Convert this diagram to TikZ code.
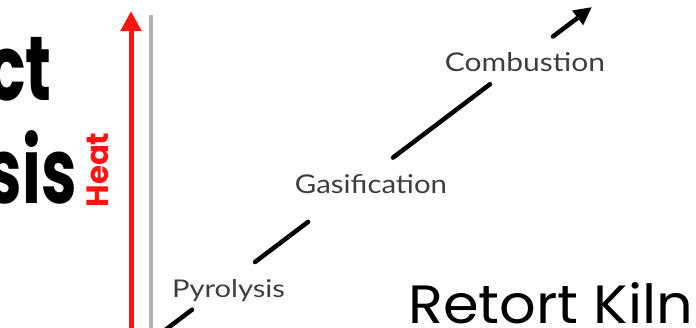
\documentclass[tikz,border=0pt]{standalone}
\usepackage{fontspec}
\usepackage{graphicx}
\usetikzlibrary{arrows.meta}
\newfontfamily\labelfont{Lato}
\newfontfamily\geofont{Poppins}
\definecolor{heatred}{RGB}{255,20,20}
\definecolor{labelgray}{RGB}{62,62,62}
\tikzset{
  bigtext/.style={font=\geofont\bfseries\fontsize{91}{100}\selectfont, text=black, inner sep=0pt},
  steplabel/.style={font=\labelfont, text=labelgray, inner sep=0pt},
  heatarrow/.style={draw=heatred, line width=5pt, -{Triangle[length=20pt,width=20pt]}},
  axisline/.style={draw=black!30, line width=4pt},
  flowline/.style={draw=black, line width=4.5pt, line cap=round,
    dash pattern=on 52.7pt off 79pt on 66.5pt off 106.6pt on 121.6pt off 79pt on 200pt,
    -{Triangle[length=18pt,width=17pt]}},
}
\begin{document}
\begin{tikzpicture}[x=1pt,y=-1pt]
\useasboundingbox (0,0) rectangle (696,327);
\clip (0,0) rectangle (696,327);
% big clipped title words
\node[bigtext, anchor=base east] (t1) at (52,100) {\scalebox{0.7}[1]{ct}};
\node[bigtext, anchor=base east] (t2) at (77,203) {\scalebox{0.7}[1]{sis}};
% heat label and arrow
\node[font=\geofont\bfseries, text=heatred, rotate=90, inner sep=0pt] (heat) at (98,170) {\resizebox{75pt}{!}{Heat}};
\coordinate (h0) at (131,335);
\coordinate (h1) at (131,11);
\draw[heatarrow] (h0) -- (h1);
% gray axis
\coordinate (g0) at (151,15);
\coordinate (g1) at (151,335);
\draw[axisline] (g0) -- (g1);
% process flow
\coordinate (f0) at (150,341.5);
\coordinate (f1) at (592,7);
\draw[flowline] (f0) -- (f1);
\node[steplabel, anchor=base] (pyro) at (228.5,297) {\resizebox{113pt}{18pt}{Pyrolysis}};
\node[steplabel, anchor=base] (gas) at (371,193) {\resizebox{152pt}{19pt}{Gasification}};
\node[steplabel, anchor=base] (comb) at (525,71) {\resizebox{160pt}{19pt}{Combustion}};
% kiln title
\node[font=\geofont\fontsize{57}{60}\selectfont, anchor=base west, inner sep=0pt] (kiln) at (408,323) {\resizebox{285pt}{41pt}{Retort Kiln}};
\end{tikzpicture}
\end{document}
